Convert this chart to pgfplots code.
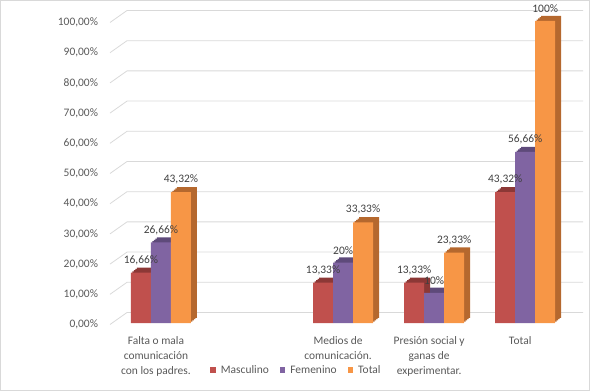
\documentclass[border=0pt]{standalone}
\usepackage{fontspec}
\setmainfont{Carlito}
\usepackage{pgfplots}
\pgfplotsset{compat=1.18}
\definecolor{cM}{HTML}{C0504D}
\definecolor{cMd}{HTML}{8C3836}
\definecolor{cF}{HTML}{8064A2}
\definecolor{cFd}{HTML}{5E4A7A}
\definecolor{cT}{HTML}{F79646}
\definecolor{cTd}{HTML}{B5682E}
\definecolor{gridc}{HTML}{D9D9D9}
\definecolor{txt}{HTML}{595959}
\definecolor{lab}{HTML}{404040}
\newcommand{\cf}{\fontsize{11.5}{14.7}\selectfont}
\pgfplotstableread{
x  m      f      t
0  16.66  26.66  43.32
2  13.33  20     33.33
3  13.33  10     23.33
4  43.32  56.66  100
}\datatab
\begin{document}
\cf
\begin{tikzpicture}
\useasboundingbox (0,0) rectangle (590bp,391bp);
\draw[gridc] (0.5bp,0.5bp) rectangle (589.5bp,390.5bp);
\begin{axis}[
  at={(110bp,68bp)}, anchor=south west,
  scale only axis, width=468bp, height=302bp,
  xmin=-0.56, xmax=4.58, ymin=0, ymax=100,
  ybar, bar width=20bp,
  axis line style={draw=none}, major tick length=0pt,
  xtick={0,1,2,3,4},
  xticklabels={{Falta o mala\\comunicación\\con los padres.},{},{Medios de\\comunicación.},{Presión social y\\ganas de\\experimentar.},{Total}},
  xticklabel style={align=center, anchor=north, xshift=-5bp, yshift=-10bp, text=txt, font=\cf},
  ytick={0,10,...,100},
  yticklabels={{0,00\%},{10,00\%},{20,00\%},{30,00\%},{40,00\%},{50,00\%},{60,00\%},{70,00\%},{80,00\%},{90,00\%},{100,00\%}},
  yticklabel style={text=txt, anchor=east, xshift=-8bp, yshift=-1.5bp, font=\cf},
  clip=false,
  legend style={at={(0.3985,-0.156)}, anchor=center, legend columns=-1, draw=none, fill=none, font=\cf, text=txt,
    /tikz/every even column/.append style={column sep=9bp},
    /tikz/every odd column/.append style={column sep=3bp}},
  legend image code/.code={\fill[#1] (0bp,-2.5bp) rectangle (5.5bp,3bp);},
]
\pgfplotsinvokeforeach{0,10,...,100}{
  \draw[gridc, line width=0.8bp] ([yshift=-1.5bp]axis cs:-0.56,#1) -- ++(17bp,12bp) -- ++(456bp,0bp);
}
% depth (side/top) faces, stepped to approximate the 3D prism
\pgfplotsinvokeforeach{1.5,3,4.5,6}{
  \addplot[fill=cMd, draw=none, bar shift=-20bp, xshift=#1bp, yshift=0.85*#1bp, forget plot] table[x=x,y=m] {\datatab};
  \addplot[fill=cFd, draw=none, bar shift=0bp, xshift=#1bp, yshift=0.85*#1bp, forget plot] table[x=x,y=f] {\datatab};
  \addplot[fill=cTd, draw=none, bar shift=20bp, xshift=#1bp, yshift=0.85*#1bp, forget plot] table[x=x,y=t] {\datatab};
}
% front faces
\addplot[fill=cM, draw=none, bar shift=-20bp] table[x=x,y=m] {\datatab};
\addlegendentry{Masculino}
\addplot[fill=cF, draw=none, bar shift=0bp] table[x=x,y=f] {\datatab};
\addlegendentry{Femenino}
\addplot[fill=cT, draw=none, bar shift=20bp] table[x=x,y=t] {\datatab};
\addlegendentry{Total}
% data labels
\addplot[draw=none, fill=none, bar shift=-20bp, forget plot, point meta=explicit symbolic, nodes near coords,
  every node near coord/.append style={text=lab, font=\cf, anchor=south, yshift=4bp}]
  coordinates {(0,16.66)[16,66\%] (2,13.33)[13,33\%] (3,13.33)[13,33\%] (4,43.32)[43,32\%]};
\addplot[draw=none, fill=none, bar shift=0bp, forget plot, point meta=explicit symbolic, nodes near coords,
  every node near coord/.append style={text=lab, font=\cf, anchor=south, yshift=4bp}]
  coordinates {(0,26.66)[26,66\%] (2,20)[20\%] (3,10)[10\%] (4,56.66)[56,66\%]};
\addplot[draw=none, fill=none, bar shift=20bp, forget plot, point meta=explicit symbolic, nodes near coords,
  every node near coord/.append style={text=lab, font=\cf, anchor=south, yshift=4bp}]
  coordinates {(0,43.32)[43,32\%] (2,33.33)[33,33\%] (3,23.33)[23,33\%] (4,100)[100\%]};
\end{axis}
\end{tikzpicture}
\end{document}
